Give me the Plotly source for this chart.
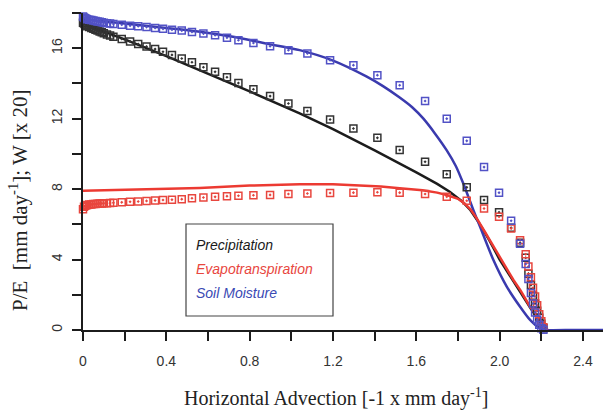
import plotly.graph_objects as go

# ---- simulated points (open squares) ----
x_sim = [0.0, 0.005, 0.01, 0.015, 0.02, 0.03, 0.04, 0.05, 0.06, 0.07, 0.08, 0.09, 0.1,
         0.115, 0.13, 0.146, 0.186, 0.226, 0.265, 0.305, 0.346, 0.384, 0.427, 0.474,
         0.523, 0.578, 0.634, 0.691, 0.746, 0.818, 0.898, 0.986, 1.077, 1.186, 1.298,
         1.413, 1.52, 1.642, 1.746, 1.842, 1.925, 1.997, 2.055, 2.098, 2.125, 2.138,
         2.15, 2.16, 2.17, 2.18, 2.19, 2.2, 2.21]
precip_sim = [17.45, 17.4, 17.35, 17.3, 17.25, 17.2, 17.15, 17.1, 17.05, 17.0, 16.95, 16.9, 16.85,
              16.78, 16.72, 16.65, 16.52, 16.38, 16.24, 16.1, 15.95, 15.8, 15.62, 15.42,
              15.2, 14.92, 14.66, 14.35, 14.02, 13.67, 13.28, 12.86, 12.43, 11.95, 11.44,
              10.91, 10.22, 9.55, 8.85, 8.1, 7.38, 6.68, 5.8, 4.95, 4.1, 3.2,
              2.55, 1.95, 1.5, 1.1, 0.7, 0.35, 0.1]
et_sim = [6.85, 7.0, 7.05, 7.08, 7.1, 7.12, 7.13, 7.15, 7.15, 7.17, 7.18, 7.19, 7.2,
          7.2, 7.21, 7.22, 7.25, 7.28, 7.3, 7.33, 7.36, 7.38, 7.4, 7.43,
          7.48, 7.52, 7.56, 7.6, 7.62, 7.65, 7.67, 7.72, 7.75, 7.78, 7.8,
          7.82, 7.8, 7.72, 7.57, 7.34, 6.9, 6.43, 5.77, 5.1, 4.3, 3.6,
          3.0, 2.4, 1.9, 1.4, 0.9, 0.5, 0.15]
sm_sim = [17.8, 17.75, 17.7, 17.68, 17.65, 17.62, 17.6, 17.58, 17.55, 17.52, 17.5, 17.48, 17.45,
          17.42, 17.4, 17.38, 17.33, 17.28, 17.25, 17.2, 17.15, 17.1, 17.05, 17.0,
          16.92, 16.83, 16.74, 16.6, 16.45, 16.3, 16.11, 15.89, 15.7, 15.32, 15.04,
          14.47, 13.9, 13.0, 12.0, 10.74, 9.25, 7.8, 6.2, 4.9, 3.75, 2.9,
          2.1, 1.5, 1.0, 0.6, 0.3, 0.1, 0.02]

# ---- model curves (lines) ----
x_line_p = [0, 0.2, 0.4, 0.56, 0.8, 1.04, 1.2, 1.4, 1.52, 1.6, 1.7, 1.76, 1.82, 1.86,
            1.9, 1.95, 2.0, 2.05, 2.1, 2.15, 2.2, 2.22]
y_line_p = [17.4, 16.5, 15.55, 14.75, 13.55, 12.3, 11.4, 10.2, 9.46, 8.95, 8.3, 7.85, 7.3, 6.8,
            6.1, 5.1, 4.0, 3.05, 2.1, 1.2, 0.35, 0]
x_line_e = [0, 0.2, 0.4, 0.56, 0.8, 1.04, 1.2, 1.43, 1.52, 1.63, 1.7, 1.75, 1.8, 1.83, 1.86,
            1.89, 1.93, 1.97, 2.02, 2.066, 2.1, 2.146, 2.18, 2.21, 2.23]
y_line_e = [7.9, 7.97, 8.03, 8.07, 8.2, 8.28, 8.28, 8.15, 8.05, 7.94, 7.8, 7.65, 7.45, 7.2, 6.85,
            6.34, 5.55, 4.73, 3.75, 2.84, 2.25, 1.32, 0.8, 0.38, 0]
x_line_w = [0, 0.2, 0.4, 0.56, 0.72, 0.88, 1.04, 1.2, 1.36, 1.44, 1.52, 1.58, 1.634, 1.69, 1.746,
            1.79, 1.826, 1.874, 1.906, 1.97, 2.034, 2.098, 2.146, 2.19, 2.22, 2.35, 2.5]
y_line_w = [17.65, 17.4, 17.15, 16.94, 16.65, 16.26, 15.89, 15.3, 14.4, 13.85, 13.2, 12.65, 12.0, 11.15, 10.2,
            9.3, 8.3, 6.8, 5.86, 3.97, 2.46, 1.32, 0.57, 0.12, 0.0, 0.0, 0.0]

x_ticks = [0, 0.4, 0.8, 1.2, 1.6, 2.0, 2.4]
x_ticktext = ["0", "0.4", "0.8", "1.2", "1.6", "2.0", "2.4"]
y_ticks = [0, 4, 8, 12, 16]
y_ticktext = ["0", "4", "8", "12", "16"]

legend_names = ["Precipitation", "Evapotranspiration", "Soil Moisture"]

BLACK_L, RED_L, BLUE_L = "#1c1c1c", "#ec3a32", "#3a3aae"
BLACK_M, RED_M, BLUE_M = "#333333", "#e8463e", "#5252c6"

fig = go.Figure()
for xs, ys, c, shp in [(x_line_p, y_line_p, BLACK_L, "linear"),
                       (x_line_w, y_line_w, BLUE_L, "spline"),
                       (x_line_e, y_line_e, RED_L, "linear")]:
    fig.add_trace(go.Scatter(x=xs, y=ys, mode="lines",
                             line=dict(color=c, width=2.5, shape=shp, smoothing=0.6),
                             showlegend=False, cliponaxis=False))
for ys, c in [(precip_sim, BLACK_M), (et_sim, RED_M), (sm_sim, BLUE_M)]:
    fig.add_trace(go.Scatter(x=x_sim, y=ys, mode="markers",
                             marker=dict(symbol="square-open-dot", size=7, color=c,
                                         line=dict(color=c, width=1.5)),
                             showlegend=False, cliponaxis=False))

tick_common = dict(showline=True, linecolor="#1c1c1c", linewidth=2,
                   ticks="outside", ticklen=9, tickwidth=2, tickcolor="#1c1c1c",
                   showgrid=False, zeroline=False, tickfont=dict(size=14))

fig.update_layout(
    width=603, height=411, autosize=False,
    margin=dict(l=83, r=0, t=13, b=81),
    plot_bgcolor="white", paper_bgcolor="white",
    font=dict(family="Liberation Sans, Arial, sans-serif", color="#333333"),
    xaxis=dict(range=[0, 2.496], tickvals=x_ticks, ticktext=x_ticktext,
               ticklabelstandoff=8,
               minor=dict(tick0=0, dtick=0.2, ticks="outside", ticklen=9, tickwidth=2,
                          tickcolor="#1c1c1c", showgrid=False),
               **tick_common),
    yaxis=dict(range=[0, 18], tickvals=y_ticks, ticktext=y_ticktext,
               tickangle=-90, ticklabelstandoff=4,
               minor=dict(tick0=0, dtick=2, ticks="outside", ticklen=9, tickwidth=2,
                          tickcolor="#1c1c1c", showgrid=False),
               **tick_common),
)

serif = "Liberation Serif, Times New Roman, serif"
fig.add_annotation(text="Horizontal Advection [-1 x mm day<sup>-1</sup>]",
                   xref="paper", yref="paper", x=(336 - 83) / 520, y=(330 - 397) / 317,
                   xanchor="center", yanchor="middle", showarrow=False,
                   font=dict(family=serif, size=20, color="#222222"))
fig.add_annotation(text="P/E  [mm day<sup>-1</sup>]; W [x 20]",
                   xref="paper", yref="paper", x=(18 - 83) / 520, y=(330 - 201) / 317,
                   xanchor="center", yanchor="middle", showarrow=False, textangle=-90,
                   font=dict(family=serif, size=21, color="#222222"))

# legend box
fig.add_shape(type="rect", xref="paper", yref="paper",
              x0=(186 - 83) / 520, x1=(333 - 83) / 520,
              y0=(330 - 316) / 317, y1=(330 - 224) / 317,
              line=dict(color="#444444", width=1.2), fillcolor="white", layer="above")
for name, c, py in zip(legend_names, ["#1a1a1a", "#e8463e", "#3a4ab4"], [245, 269, 293]):
    fig.add_annotation(text="<i>%s</i>" % name, xref="paper", yref="paper",
                       x=(194 - 83) / 520, y=(330 - py) / 317,
                       xanchor="left", yanchor="middle", showarrow=False,
                       font=dict(family="Liberation Sans, Arial, sans-serif", size=14, color=c))

fig.write_html("out.html")
